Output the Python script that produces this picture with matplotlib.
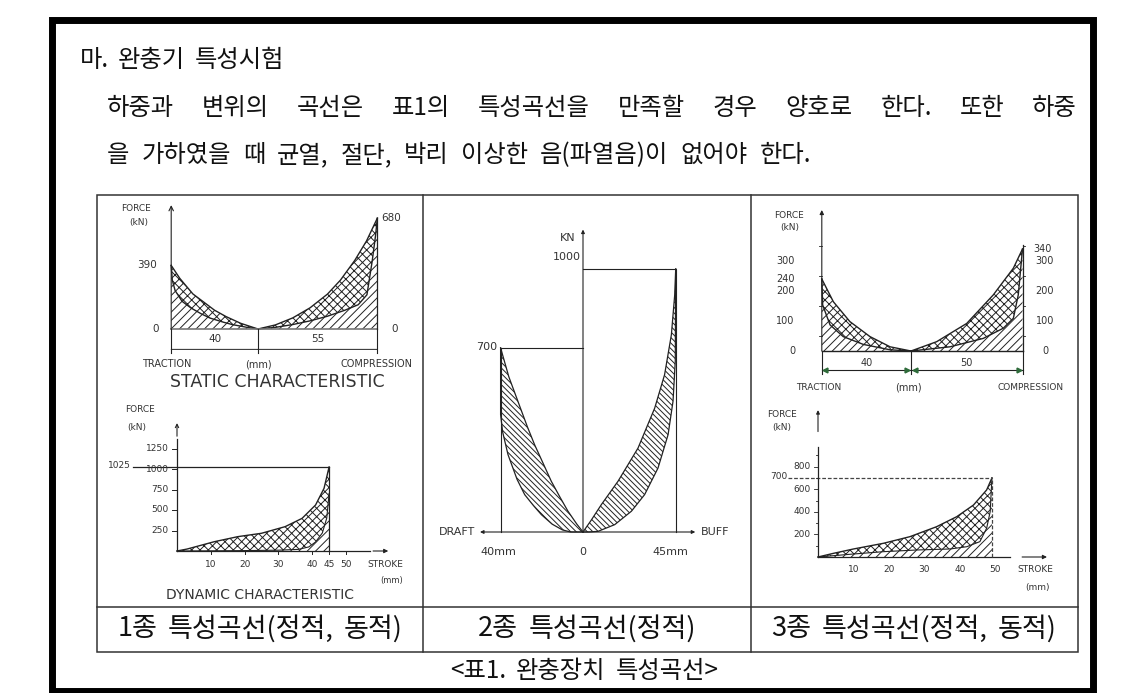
import numpy as np
import matplotlib.pyplot as plt

plt.rcParams['font.family'] = ['Noto Sans CJK KR', 'DejaVu Sans']
plt.rcParams['hatch.linewidth'] = 0.7

# ---- data ----
# type 1, static: traction side (negative stroke) and compression side
t1s_tr_hi_x = [-40, -36, -33.8, -30, -25, -20, -14.7, -8, 0]
t1s_tr_hi_y = [390, 310, 275, 215, 165, 115, 76, 35, 0]
t1s_tr_lo_x = [-40, -39.5, -38.2, -35, -30.9, -26, -22.1, -16, -11.8, -5, 0]
t1s_tr_lo_y = [390, 300, 236, 170, 129, 92, 67, 42, 27, 10, 0]
t1s_co_hi_x = [0, 8, 16, 24, 32, 38, 44.6, 50, 55]
t1s_co_hi_y = [0, 25, 68, 130, 214, 300, 421, 540, 680]
t1s_co_lo_x = [0, 8, 15.9, 24, 31.9, 40, 46.2, 50.2, 52.6, 54.2, 55]
t1s_co_lo_y = [0, 10, 27, 50, 78, 115, 149, 210, 414, 577, 680]

# type 1, dynamic
t1d_hi_x = [0, 3, 11, 18, 25, 32, 37, 41, 43.5, 45]
t1d_hi_y = [0, 24, 113, 175, 216, 297, 398, 561, 764, 1025]
t1d_lo_x = [0, 10, 20, 30, 36, 39, 41, 43, 44.3, 45]
t1d_lo_y = [0, 2, 5, 10, 20, 50, 110, 220, 400, 700]
t1d_ticks_y = [250, 500, 750, 1000, 1250]
t1d_ticks_x = [10, 20, 30, 40, 45, 50]

# type 2, static: draft side and buff side bands
t2_dr_in_x = [-40, -36, -31.6, -27, -23.5, -19, -15.4, -11, -7.3, -3, 0]
t2_dr_in_y = [700, 590, 497, 400, 332, 255, 193, 130, 79, 30, 0]
t2_dr_out_x = [-40, -40, -39, -36.4, -32, -28.3, -24, -20.2, -15, -10, -6, 0]
t2_dr_out_y = [700, 446, 380, 294, 200, 142, 100, 66, 30, 8, 0, 0]
t2_bf_in_x = [0, 4, 8.9, 17, 26.7, 34.8, 39.6, 42.9, 44.5, 45]
t2_bf_in_y = [0, 45, 104, 193, 319, 471, 598, 750, 900, 1000]
t2_bf_out_x = [0, 3, 7.3, 15.4, 23.5, 29.9, 36.4, 41.3, 43.7, 44.8, 45]
t2_bf_out_y = [0, 0, 2.5, 28, 79, 142, 243, 370, 497, 650, 1000]

# type 3, static
t3s_tr_hi_x = [-40, -34.8, -27.4, -18.4, -9.4, 0]
t3s_tr_hi_y = [240, 164, 98, 48, 14, 0]
t3s_tr_lo_x = [-40, -39.6, -36.3, -30.4, -21.4, -9.4, 0]
t3s_tr_lo_y = [240, 153, 87, 48, 22, 4, 0]
t3s_co_hi_x = [0, 11.5, 25, 36.9, 45.9, 50]
t3s_co_hi_y = [0, 31, 92, 187, 276, 340]
t3s_co_lo_x = [0, 17.5, 32.4, 41.4, 45.9, 48.1, 50]
t3s_co_lo_y = [0, 14, 42, 76, 109, 187, 340]

# type 3, dynamic
t3d_hi_x = [0, 4.3, 10, 18.4, 25.9, 33.4, 39.1, 43.8, 47.5, 49]
t3d_hi_y = [0, 32, 71, 121, 180, 268, 357, 460, 593, 700]
t3d_lo_x = [0, 9, 18.4, 27.8, 37.2, 41.9, 45.6, 47.5, 48.5, 49]
t3d_lo_y = [0, 24, 47, 62, 71, 91, 136, 254, 401, 700]
t3d_ticks_y = [200, 400, 600, 800]
t3d_ticks_x = [10, 20, 30, 40, 50]

title = "마. 완충기 특성시험"
para_1 = "하중과 변위의 곡선은 표1의 특성곡선을 만족할 경우 양호로 한다. 또한 하중"
para_2 = "을 가하였을 때 균열, 절단, 박리 이상한 음(파열음)이 없어야 한다."
captions = ["1종 특성곡선(정적, 동적)", "2종 특성곡선(정적)", "3종 특성곡선(정적, 동적)"]
table_title = "<표1. 완충장치 특성곡선>"

W, H = 1121, 693
LC = '#222222'
TC = '#333333'
CF = 'DejaVu Sans'
X1 = 'xxxx'
S1 = '////'
S2 = '\\' * 6

fig = plt.figure(figsize=(W / 100, H / 100), dpi=100)
bg = fig.add_axes([0, 0, 1, 1])
bg.set_xlim(0, W)
bg.set_ylim(H, 0)
bg.axis('off')

# outer thick frame and table grid
bg.add_patch(plt.Rectangle((52, 19.5), 1040.5, 671, fill=False, lw=5.0, ec='black'))
bg.add_patch(plt.Rectangle((97, 195), 981, 457, fill=False, lw=1.1, ec='#333333'))
bg.plot([423, 423], [195, 652], color='#333333', lw=1.1)
bg.plot([751, 751], [195, 652], color='#333333', lw=1.1)
bg.plot([97, 1078], [607, 607], color='#333333', lw=1.1)


def put_words(words, x0, y, size, x1=None, gap=None, center=None):
    ts = [bg.text(0, y, w, fontsize=size, ha='left', va='center', color='#111111') for w in words]
    r = fig.canvas.get_renderer()
    ws = [t.get_window_extent(r).width for t in ts]
    if gap is None:
        gap = (x1 - x0 - sum(ws)) / (len(words) - 1)
    if center is not None:
        x0 = center - (sum(ws) + gap * (len(words) - 1)) / 2
    x = x0
    for t, w in zip(ts, ws):
        t.set_x(x)
        x += w + gap


put_words(title.split(), 80, 60, 17.5, gap=9)
put_words(para_1.split(), 107, 108, 17.5, x1=1077)
put_words(para_2.split(), 107, 155, 17.5, gap=12)
for cx, c in zip([260, 587, 914], captions):
    put_words(c.split(), 0, 629, 19.5, gap=10, center=cx)
put_words(table_title.split(), 0, 671, 17.5, gap=10, center=584)

bg.text(277, 382, "STATIC CHARACTERISTIC", fontsize=12.5, family=CF, ha='center', va='center', color=TC)
bg.text(260, 595, "DYNAMIC CHARACTERISTIC", fontsize=10, family=CF, ha='center', va='center', color=TC)


def chart(x0, sx, y0, sy, box):
    L, T, R, B = box
    ax = fig.add_axes([L / W, 1 - B / H, (R - L) / W, (B - T) / H])
    ax.set_xlim((L - x0) / sx, (R - x0) / sx)
    ax.set_ylim((y0 - B) / sy, (y0 - T) / sy)
    ax.axis('off')
    return ax


def band(ax, xa, ya, xb, yb, hatch):
    px = np.concatenate([xa, xb[::-1]])
    py = np.concatenate([ya, yb[::-1]])
    ax.fill(px, py, facecolor='none', edgecolor=LC, lw=0, hatch=hatch)


def under(ax, x, y, hatch):
    px = np.concatenate([[x[0]], x, [x[-1]]])
    py = np.concatenate([[0], y, [0]])
    ax.fill(px, py, facecolor='none', edgecolor=LC, lw=0, hatch=hatch)


def arrow(ax, a, b, style='->', lw=0.8, ms=8):
    ax.annotate('', xy=b, xytext=a,
                arrowprops=dict(arrowstyle=style, lw=lw, color=LC, shrinkA=0, shrinkB=0, mutation_scale=ms))


def lab(ax, x, y, s, size=7, ha='center', **kw):
    ax.text(x, y, s, fontsize=size, family=CF, ha=ha, va='center', color=TC, **kw)


A = lambda v: np.asarray(v, dtype=float)

# ---- type 1 static ----
ax = chart(258, 2.17, 329, 0.163, (98, 196, 422, 395))
under(ax, A(t1s_tr_lo_x), A(t1s_tr_lo_y), S1)
under(ax, A(t1s_co_lo_x), A(t1s_co_lo_y), S1)
band(ax, A(t1s_tr_hi_x), A(t1s_tr_hi_y), A(t1s_tr_lo_x), A(t1s_tr_lo_y), X1)
band(ax, A(t1s_co_hi_x), A(t1s_co_hi_y), A(t1s_co_lo_x), A(t1s_co_lo_y), X1)
for xs, ys in [(t1s_tr_hi_x, t1s_tr_hi_y), (t1s_tr_lo_x, t1s_tr_lo_y),
               (t1s_co_hi_x, t1s_co_hi_y), (t1s_co_lo_x, t1s_co_lo_y)]:
    ax.plot(xs, ys, color=LC, lw=1.0)
ax.plot([-40, 55], [0, 0], color='#777777', lw=1.2)
arrow(ax, (-40, 0), (-40, 760))
ax.plot([55, 55], [0, 680], color=LC, lw=0.9)
for xv in [-40, 0, 55]:
    ax.plot([xv, xv], [0, -145], color=LC, lw=0.8)
arrow(ax, (-40, -125), (0, -125), style='|-|', lw=0.7, ms=2)
arrow(ax, (0, -125), (55, -125), style='|-|', lw=0.7, ms=2)
lab(ax, -20, -60, "40", 7.5)
lab(ax, 27.5, -60, "55", 7.5)
lab(ax, -47, 0, "0", 7.5)
lab(ax, 63, 0, "0", 7.5)
lab(ax, -51, 390, "390", 7.5)
lab(ax, 61.5, 680, "680", 7.5)
lab(ax, -56, 742, "FORCE", 6.5)
lab(ax, -55, 656, "(kN)", 6.5)
lab(ax, -42, -215, "TRACTION", 7)
lab(ax, 0, -215, "(mm)", 7)
lab(ax, 37.8, -215, "COMPRESSION", 7, ha='left', clip_on=True)

# ---- type 1 dynamic ----
ax = chart(177, 3.38, 551, 0.082, (98, 396, 422, 606))
under(ax, A(t1d_lo_x), A(t1d_lo_y), S1)
band(ax, A(t1d_hi_x), A(t1d_hi_y), A(t1d_lo_x), A(t1d_lo_y), X1)
ax.plot(t1d_hi_x, t1d_hi_y, color=LC, lw=1.0)
ax.plot(t1d_lo_x, t1d_lo_y, color=LC, lw=0.8)
ax.plot([0, 57], [0, 0], color=LC, lw=0.9)
arrow(ax, (58, 0), (62.5, 0), style='-|>', ms=6)
ax.plot([0, 0], [0, 1360], color=LC, lw=0.9)
arrow(ax, (0, 1400), (0, 1560), style='->', ms=6)
ax.plot([-13, 45], [1025, 1025], color=LC, lw=0.9)
ax.plot([45, 45], [0, 1025], color=LC, lw=0.9)
for v in t1d_ticks_y:
    ax.plot([-1.5, 0], [v, v], color=LC, lw=0.7)
    lab(ax, -2.5, v, str(v), 6.5, ha='right')
for v in t1d_ticks_x:
    ax.plot([v, v], [0, -40], color=LC, lw=0.7)
    lab(ax, v, -160, str(v), 6.5)
lab(ax, -13.6, 1040, "1025", 6.5, ha='right')
lab(ax, 61.5, -160, "STROKE", 6.5)
lab(ax, 63.6, -354, "(mm)", 6)
lab(ax, -10.9, 1720, "FORCE", 6.5)
lab(ax, -11.8, 1512, "(kN)", 6.5)

# ---- type 2 static ----
ax = chart(583, 2.06, 532, 0.263, (424, 196, 750, 606))
band(ax, A(t2_dr_in_x), A(t2_dr_in_y), A(t2_dr_out_x), A(t2_dr_out_y), S2)
band(ax, A(t2_bf_in_x), A(t2_bf_in_y), A(t2_bf_out_x), A(t2_bf_out_y), S2)
for xs, ys in [(t2_dr_in_x, t2_dr_in_y), (t2_dr_out_x, t2_dr_out_y),
               (t2_bf_in_x, t2_bf_in_y), (t2_bf_out_x, t2_bf_out_y)]:
    ax.plot(xs, ys, color=LC, lw=0.9)
ax.plot([-40, -40, 0], [0, 700, 700], color=LC, lw=0.8)
ax.plot([0, 45, 45], [1000, 1000, 0], color=LC, lw=0.8)
arrow(ax, (0, 0), (0, 1150), style='-|>', lw=0.8, ms=5)
arrow(ax, (0, 0), (-50, 0), style='-|>', lw=0.8, ms=5)
arrow(ax, (0, 0), (54.5, 0), style='-|>', lw=0.8, ms=5)
lab(ax, -7.3, 1118, "KN", 8)
lab(ax, -1.2, 1046, "1000", 8, ha='right')
lab(ax, -41.5, 703, "700", 8, ha='right')
lab(ax, -61, 0, "DRAFT", 8)
lab(ax, 64, 0, "BUFF", 8)
lab(ax, -41.3, -76, "40mm", 8)
lab(ax, 0, -76, "0", 8)
lab(ax, 42.2, -76, "45mm", 8)

# ---- type 3 static ----
ax = chart(911, 2.23, 351, 0.3, (752, 196, 1077, 395))
under(ax, A(t3s_tr_lo_x), A(t3s_tr_lo_y), S1)
under(ax, A(t3s_co_lo_x), A(t3s_co_lo_y), S1)
band(ax, A(t3s_tr_hi_x), A(t3s_tr_hi_y), A(t3s_tr_lo_x), A(t3s_tr_lo_y), X1)
band(ax, A(t3s_co_hi_x), A(t3s_co_hi_y), A(t3s_co_lo_x), A(t3s_co_lo_y), X1)
for xs, ys in [(t3s_tr_hi_x, t3s_tr_hi_y), (t3s_tr_lo_x, t3s_tr_lo_y),
               (t3s_co_hi_x, t3s_co_hi_y), (t3s_co_lo_x, t3s_co_lo_y)]:
    ax.plot(xs, ys, color=LC, lw=1.0)
ax.plot([-40, 50], [0, 0], color=LC, lw=1.0)
arrow(ax, (-40, 0), (-40, 470), style='-|>', ms=6)
ax.plot([50, 50], [0, 355], color=LC, lw=0.9)
for v in [50, 150, 250, 350]:
    ax.plot([-41.3, -40], [v, v], color=LC, lw=0.6)
    ax.plot([50, 51.3], [v, v], color=LC, lw=0.6)
for xv in [-40, 0, 50]:
    ax.plot([xv, xv], [0, -77], color=LC, lw=0.8)
ax.plot([-40, 50], [-63, -63], color=LC, lw=0.8)
for a, b in [(-40, 0), (0, 50)]:
    ax.plot([a + 1.6], [-63], marker='<', ms=3.5, color='#2e6b3a', lw=0)
    ax.plot([b - 1.6], [-63], marker='>', ms=3.5, color='#2e6b3a', lw=0)
lab(ax, -20, -40, "40", 7)
lab(ax, 25, -40, "50", 7)
for v in [100, 200, 300]:
    lab(ax, -56.5, v, str(v), 7)
    lab(ax, 60, v, str(v), 7)
lab(ax, -56.5, 240, "240", 7)
lab(ax, 59, 340, "340", 7)
lab(ax, -53, 0, "0", 7)
lab(ax, 60.5, 0, "0", 7)
lab(ax, -54.7, 453, "FORCE", 6.5)
lab(ax, -54.3, 413, "(kN)", 6.5)
lab(ax, -41.3, -120, "TRACTION", 6.5)
lab(ax, -1.3, -120, "(mm)", 7)
lab(ax, 53.4, -120, "COMPRESSION", 6.5)

# ---- type 3 dynamic ----
ax = chart(818, 3.55, 557, 0.113, (752, 396, 1077, 606))
under(ax, A(t3d_lo_x), A(t3d_lo_y), S1)
band(ax, A(t3d_hi_x), A(t3d_hi_y), A(t3d_lo_x), A(t3d_lo_y), X1)
ax.plot(t3d_hi_x, t3d_hi_y, color=LC, lw=1.0)
ax.plot(t3d_lo_x, t3d_lo_y, color=LC, lw=0.8)
ax.plot([0, 54], [0, 0], color=LC, lw=0.9)
arrow(ax, (57.5, 0), (64.5, 0), style='-|>', ms=6)
ax.plot([0, 0], [0, 970], color=LC, lw=0.9)
arrow(ax, (0, 1110), (0, 1300), style='-|>', ms=5)
ax.plot([-8.5, 49], [700, 700], color='#444444', lw=0.9, ls=(0, (3, 1.5)))
ax.plot([49, 49], [0, 700], color='#444444', lw=0.9, ls=(0, (3, 1.5)))
for v in range(100, 1000, 100):
    ax.plot([-1.2 if v % 200 == 0 else -0.7, 0], [v, v], color=LC, lw=0.6)
for v in t3d_ticks_y:
    lab(ax, -2.2, v, str(v), 6.5, ha='right')
for v in t3d_ticks_x:
    lab(ax, v, -115, str(v), 6.5)
lab(ax, -8.6, 715, "700", 6.5, ha='right')
lab(ax, 61.1, -115, "STROKE", 6.5)
lab(ax, 61.7, -274, "(mm)", 6.5)
lab(ax, -10.1, 1265, "FORCE", 6.5)
lab(ax, -10.1, 1142, "(kN)", 6.5)

fig.savefig('out.png', dpi=100)
